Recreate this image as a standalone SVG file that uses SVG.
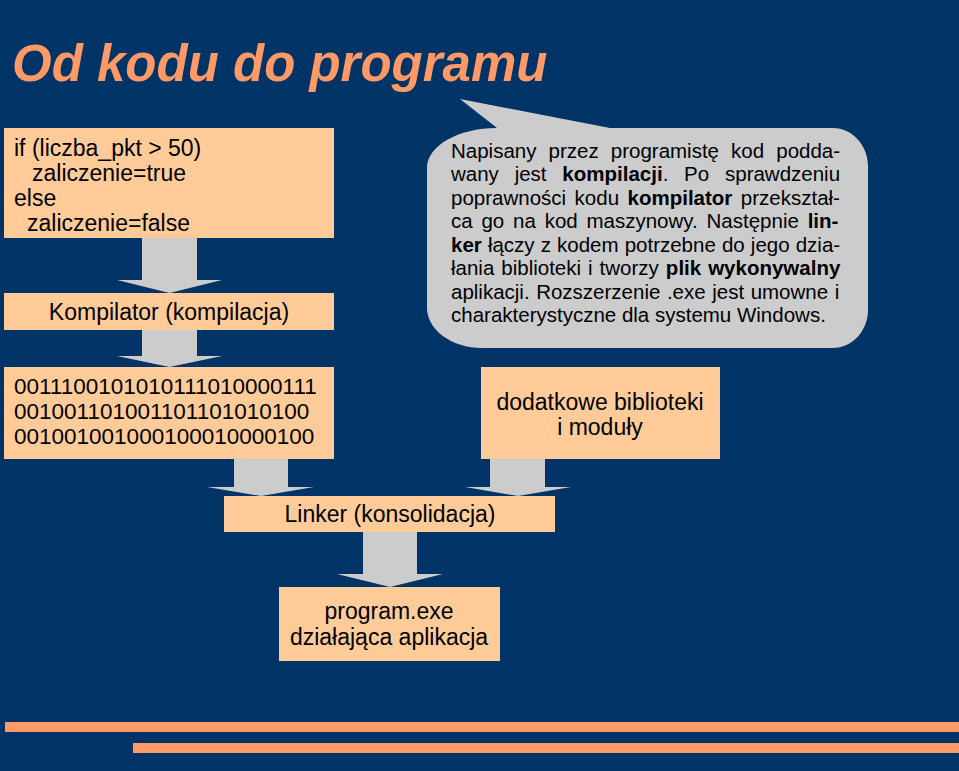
<svg xmlns="http://www.w3.org/2000/svg" width="959" height="771" viewBox="0 0 959 771">
  <defs>
    <style>
      .box { fill: #FFCC99; }
      .arrow { fill: #CCCCCC; }
      .t { font-family: "Liberation Sans", Arial, sans-serif; font-size: 23px; fill: #000000; }
      .mid { text-anchor: middle; }
      .bin { font-size: 22.5px; }
      .note { font-family: "Liberation Sans", Arial, sans-serif; font-size: 20.5px; fill: #000000; }
      .b { font-weight: bold; }
      .title { font-family: "Liberation Sans", Arial, sans-serif; font-size: 51px; font-weight: bold; font-style: italic; fill: #FF9966; }
      .bar { fill: #FF9966; }
    </style>
  </defs>

  <rect x="0" y="0" width="959" height="771" fill="#003366"/>

  <text class="title" x="12" y="81">Od kodu do programu</text>

  <g id="connectors">
    <polygon class="arrow" points="142,238 197,238 197,280 222,280 169.5,293 117,280 142,280"/>
    <polygon class="arrow" points="142,330 197,330 197,356 222,356 169.5,367 117,356 142,356"/>
    <polygon class="arrow" points="234,459 288,459 288,487 314,487 261,496 207,487 234,487"/>
    <polygon class="arrow" points="490,459 545,459 545,487 571,487 518,496 465,487 490,487"/>
    <polygon class="arrow" points="363,532 417,532 417,574 443,574 390,587 337,574 363,574"/>
  </g>

  <g id="source-code">
    <rect class="box" x="4" y="128" width="330" height="110"/>
    <text class="t" x="14" y="156">if (liczba_pkt &gt; 50)</text>
    <text class="t" x="32" y="181">zaliczenie=true</text>
    <text class="t" x="14" y="206">else</text>
    <text class="t" x="27" y="231">zaliczenie=false</text>
  </g>

  <g id="compiler">
    <rect class="box" x="4" y="293" width="330" height="37"/>
    <text class="t mid" x="169" y="320">Kompilator (kompilacja)</text>
  </g>

  <g id="machine-code">
    <rect class="box" x="4" y="367" width="330" height="92"/>
    <text class="t bin" x="14" y="394">0011100101010111010000111</text>
    <text class="t bin" x="14" y="419">001001101001101101010100</text>
    <text class="t bin" x="14" y="444">001001001000100010000100</text>
  </g>

  <g id="libraries">
    <rect class="box" x="481" y="367" width="239" height="92"/>
    <text class="t mid" x="600" y="410">dodatkowe biblioteki</text>
    <text class="t mid" x="600" y="435">i moduły</text>
  </g>

  <g id="linker">
    <rect class="box" x="224" y="496" width="331" height="36"/>
    <text class="t mid" x="390" y="522">Linker (konsolidacja)</text>
  </g>

  <g id="program">
    <rect class="box" x="279" y="587" width="221" height="74"/>
    <text class="t mid" x="389" y="619">program.exe</text>
    <text class="t mid" x="389" y="645">działająca aplikacja</text>
  </g>

  <g id="callout">
    <path fill="#CCCCCC" d="M 497,128 L 460,99 L 610,128 L 833,128 C 852,128 868,145 868,166 L 868,310 C 868,331 852,348 833,348 L 482,348 C 452,348 427,330 427,308 L 427,168 C 427,146 458,128 497,128 Z"/>
    <text class="note" x="451" y="157.5" word-spacing="6.4">Napisany przez programistę kod podda-</text>
    <text class="note" x="451" y="181" word-spacing="10.1">wany jest <tspan class="b">kompilacji</tspan>. Po sprawdzeniu</text>
    <text class="note" x="451" y="204.5" word-spacing="2.8">poprawności kodu <tspan class="b">kompilator</tspan> przekształ-</text>
    <text class="note" x="451" y="228" word-spacing="3.1">ca go na kod maszynowy. Następnie <tspan class="b">lin-</tspan></text>
    <text class="note" x="451" y="251.5" word-spacing="0.4"><tspan class="b">ker</tspan> łączy z kodem potrzebne do jego dzia-</text>
    <text class="note" x="451" y="275" word-spacing="1.3">łania biblioteki i tworzy <tspan class="b">plik wykonywalny</tspan></text>
    <text class="note" x="451" y="298.5" word-spacing="0.85">aplikacji. Rozszerzenie .exe jest umowne i</text>
    <text class="note" x="451" y="322">charakterystyczne dla systemu Windows.</text>
  </g>

  <g id="footer-bars">
    <rect class="bar" x="5" y="722" width="954" height="10"/>
    <rect class="bar" x="133" y="743" width="826" height="10"/>
  </g>
</svg>
